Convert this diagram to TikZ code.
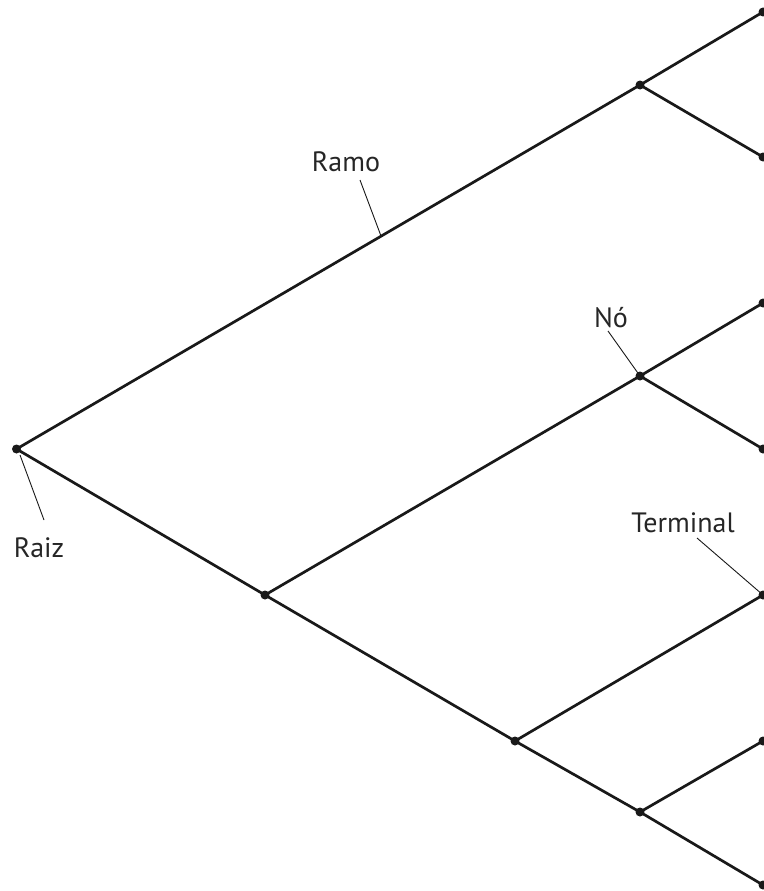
\documentclass[tikz,border=0pt]{standalone}
\usepackage{fontspec}
\setmainfont{PT Sans}
\begin{document}
\begin{tikzpicture}[x=1pt,y=-1pt,
  dot/.style={circle,fill=black!90,inner sep=0pt,minimum size=9pt},
  branch/.style={line width=2.7pt,black!90},
  leader/.style={line width=0.9pt,black!90},
  lbl/.style={anchor=base,inner sep=0pt,font=\fontsize{28}{34}\selectfont,text=black!85}]
\useasboundingbox (0,0) rectangle (763,891);
% nodes
\node[dot] (r) at (16.5,449) {};
\node[dot] (a) at (640,85) {};
\node[dot] (b) at (265,595) {};
\node[dot] (c) at (640,376) {};
\node[dot] (d) at (515,741) {};
\node[dot] (e) at (640,812) {};
\node[dot] (l1) at (763,12) {};
\node[dot] (l2) at (763,157) {};
\node[dot] (l3) at (763,303) {};
\node[dot] (l4) at (763,449) {};
\node[dot] (l5) at (763,595) {};
\node[dot] (l6) at (763,741) {};
\node[dot] (l7) at (763,885) {};
% branches
\draw[branch] (r.center) -- (a.center);
\draw[branch] (r.center) -- (b.center);
\draw[branch] (a.center) -- (l1.center);
\draw[branch] (a.center) -- (l2.center);
\draw[branch] (b.center) -- (c.center);
\draw[branch] (b.center) -- (d.center);
\draw[branch] (c.center) -- (l3.center);
\draw[branch] (c.center) -- (l4.center);
\draw[branch] (d.center) -- (l5.center);
\draw[branch] (d.center) -- (e.center);
\draw[branch] (e.center) -- (l6.center);
\draw[branch] (e.center) -- (l7.center);
% labels
\node[lbl] (tramo) at (346,171.5) {Ramo};
\node[lbl] (tno) at (611,327.5) {Nó};
\node[lbl] (traiz) at (39,557) {Raiz};
\node[lbl] (tterm) at (683,532) {Terminal};
% leader lines
\coordinate (ramotop) at (360,180);
\coordinate (ramopt) at (381,236);
\coordinate (notop) at (608,331);
\coordinate (raizbot) at (44,520);
\coordinate (raiztop) at (20,455);
\coordinate (termtop) at (697,538);
\draw[leader] (ramotop) -- (ramopt);
\draw[leader] (notop) -- (c.center);
\draw[leader] (raizbot) -- (raiztop);
\draw[leader] (termtop) -- (l5.center);
\end{tikzpicture}
\end{document}
